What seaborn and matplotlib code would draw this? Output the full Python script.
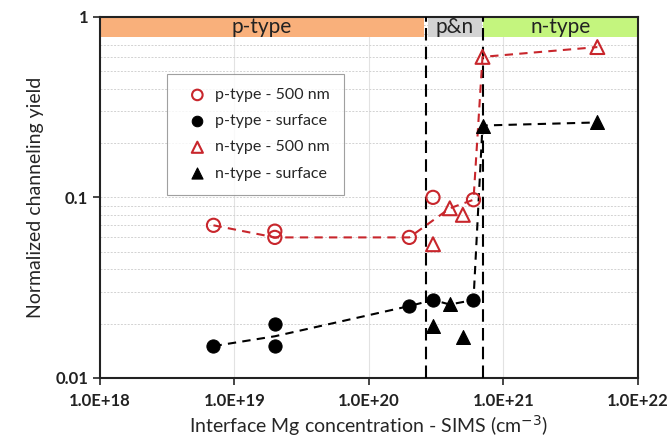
import math
import matplotlib
matplotlib.use("Agg")
import matplotlib.pyplot as plt
import matplotlib.ticker as mticker
import seaborn as sns
import pandas as pd

# measured points
p500_x = [7e18, 2e19, 2e19, 2e20, 3e20, 6e20]
p500_y = [0.070, 0.065, 0.060, 0.060, 0.100, 0.097]
psurf_x = [7e18, 2e19, 2e19, 2e20, 3e20, 6e20]
psurf_y = [0.015, 0.020, 0.015, 0.025, 0.027, 0.027]
n500_x = [3e20, 4e20, 5e20, 7e20, 5e21]
n500_y = [0.055, 0.087, 0.080, 0.60, 0.68]
nsurf_x = [3e20, 4e20, 5e20, 7e20, 5e21]
nsurf_y = [0.0195, 0.0255, 0.0168, 0.25, 0.26]

# guide lines drawn by hand in the original
red_guide_x = [7e18, 2e19, 2e20, 4e20, 6e20, 7e20, 5e21]
red_guide_y = [0.070, 0.060, 0.060, 0.087, 0.097, 0.60, 0.68]
black_guide_x = [7e18, 2e19, 2e20, 3e20, 4e20, 6e20, 7e20, 5e21]
black_guide_y = [0.015, 0.017, 0.025, 0.027, 0.0255, 0.027, 0.25, 0.26]

# regions along the top
region_names = ["p-type", "p&n", "n-type"]
region_lo = [1e18, 2.75e20, 7.1e20]
region_hi = [2.55e20, 6.9e20, 1e22]
region_colors = ["#F9B07B", "#D3D3D3", "#C4F57E"]
boundaries = [2.65e20, 7.0e20]

sns.set_style("white")
plt.rcParams["font.family"] = ["Lato", "DejaVu Sans"]

fig = plt.figure(figsize=(6.7, 4.43), dpi=100)
ax = fig.add_axes([0.149, 0.147, 0.803, 0.815])
ax.set_xscale("log")
ax.set_yscale("log")
ax.set_xlim(1e18, 1e22)
ax.set_ylim(0.01, 1)

# grid
for v in [1e19, 1e20, 1e21]:
    ax.axvline(v, color="#e2e2e2", lw=0.8, zorder=0)
ax.yaxis.set_minor_locator(mticker.LogLocator(base=10, subs=range(2, 10)))
ax.grid(True, which="both", axis="y", color="#d2d2d2", lw=0.7, ls=(0, (2, 1.5)), zorder=0)

# region bands
for name, lo, hi, c in zip(region_names, region_lo, region_hi, region_colors):
    ax.fill_between([lo, hi], 0.775, 1, color=c, lw=0, zorder=1)
    ax.text((lo * hi) ** 0.5, 0.875, name, ha="center", va="center", fontsize=15,
            color="#222222", zorder=2)

for b in boundaries:
    ax.axvline(b, color="black", lw=1.5, ls=(0, (6, 3)), zorder=3)

guides = pd.DataFrame({"x": red_guide_x, "y": red_guide_y})
sns.lineplot(data=guides, x="x", y="y", ax=ax, color="#C8262C", lw=1.5,
             linestyle=(0, (4, 3)), sort=False, zorder=4)
guides = pd.DataFrame({"x": black_guide_x, "y": black_guide_y})
sns.lineplot(data=guides, x="x", y="y", ax=ax, color="black", lw=1.5,
             linestyle=(0, (4, 3)), sort=False, zorder=4)

sns.scatterplot(x=p500_x, y=p500_y, ax=ax, marker="o", s=90, facecolor="none",
                edgecolor="#C8262C", linewidth=1.5, label="p-type - 500 nm", zorder=5)
sns.scatterplot(x=psurf_x, y=psurf_y, ax=ax, marker="o", s=90, color="black",
                edgecolor="black", label="p-type - surface", zorder=5)
sns.scatterplot(x=n500_x, y=n500_y, ax=ax, marker="^", s=100, facecolor="none",
                edgecolor="#C8262C", linewidth=1.5, label="n-type - 500 nm", zorder=5)
sns.scatterplot(x=nsurf_x, y=nsurf_y, ax=ax, marker="^", s=100, color="black",
                edgecolor="black", label="n-type - surface", zorder=5)

leg = ax.legend(loc="upper left", bbox_to_anchor=(0.11, 0.865), fontsize=11.5,
                frameon=True, fancybox=False, handletextpad=0.1, labelspacing=0.75,
                borderpad=0.9, markerscale=0.8, handlelength=2.0)
leg.get_frame().set_edgecolor("#888888")
leg.get_frame().set_linewidth(0.8)
leg.set_zorder(6)

# ticks
ax.xaxis.set_major_locator(mticker.LogLocator(base=10))
ax.xaxis.set_major_formatter(mticker.FuncFormatter(lambda v, p: "1.0E+%d" % round(math.log10(v))))
ax.xaxis.set_minor_locator(mticker.LogLocator(base=10, subs=range(2, 10)))
ax.xaxis.set_minor_formatter(mticker.NullFormatter())
ax.yaxis.set_major_formatter(mticker.FuncFormatter(lambda v, p: "%g" % v))
ax.tick_params(axis="x", which="major", direction="out", length=5, width=1.2, labelsize=12, pad=6)
ax.tick_params(axis="x", which="minor", direction="in", length=3, width=1.0)
ax.tick_params(axis="y", which="major", direction="out", length=5, width=1.2, labelsize=12)
ax.tick_params(axis="y", which="minor", length=0)
ax.tick_params(left=True, bottom=True)
for lab in ax.get_xticklabels() + ax.get_yticklabels():
    lab.set_fontweight("bold")
    lab.set_color("#222222")

for sp in ax.spines.values():
    sp.set_color("#222222")
    sp.set_linewidth(1.5)

ax.set_xlabel("Interface Mg concentration - SIMS (cm$^{-3}$)", fontsize=14, labelpad=3)
ax.set_ylabel("Normalized channeling yield", fontsize=14, labelpad=8)

fig.savefig("out.png", dpi=100)
